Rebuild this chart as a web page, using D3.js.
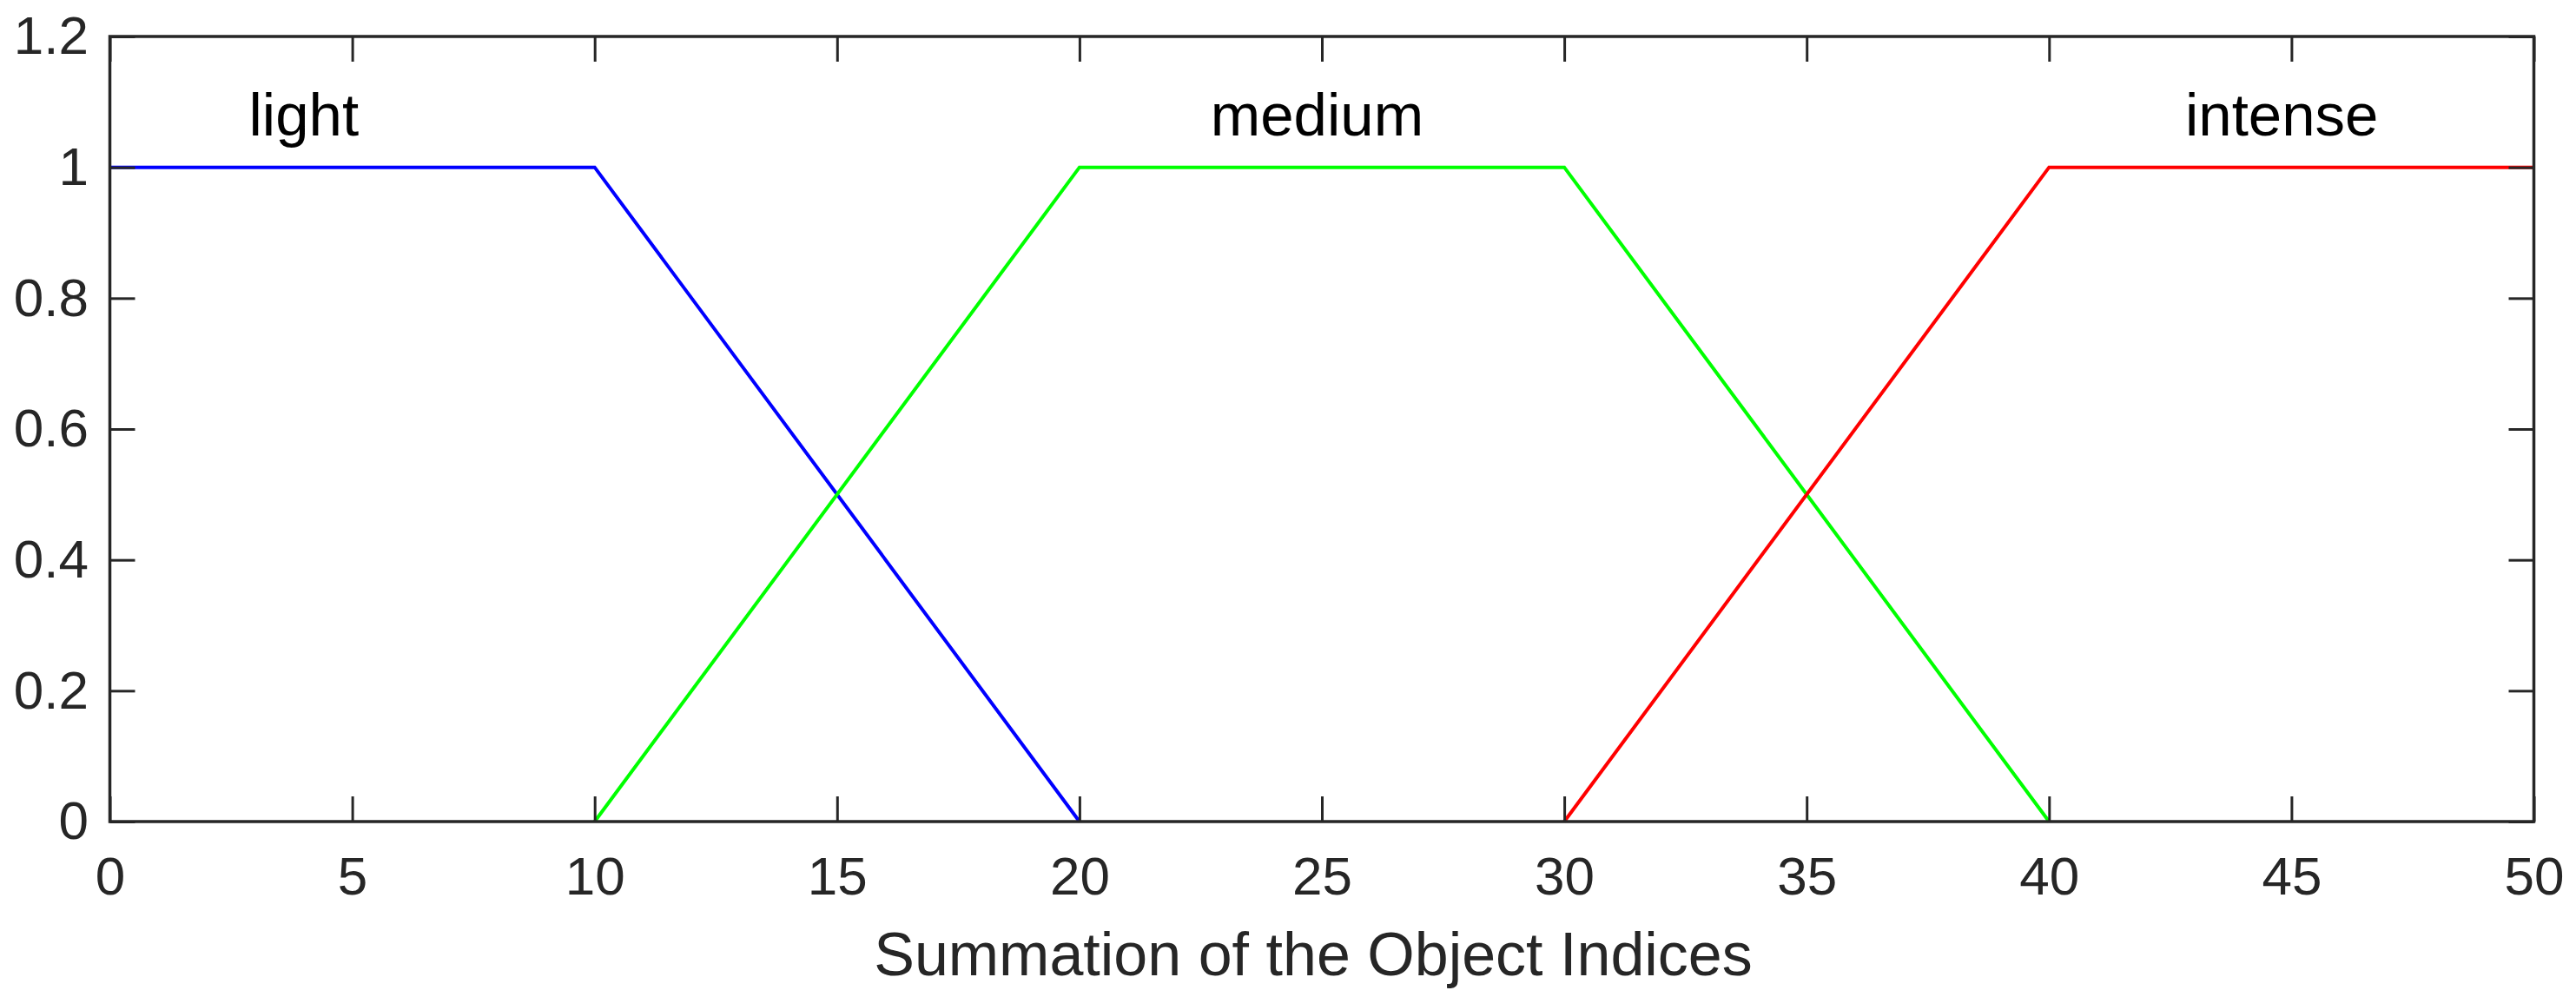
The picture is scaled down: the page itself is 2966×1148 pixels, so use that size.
<!DOCTYPE html>
<html>
<head>
<meta charset="utf-8">
<script src="https://cdn.jsdelivr.net/npm/d3@7"></script>
<style>
  html, body { margin: 0; padding: 0; background: #fff; }
  svg { display: block; }
  text { font-family: "Liberation Sans", Arial, Helvetica, sans-serif; }
</style>
</head>
<body>
<svg id="chart" width="2966" height="1148"></svg>
<script>
// ---- data ----
const xTicks = [0, 5, 10, 15, 20, 25, 30, 35, 40, 45, 50];
const yTicks = [0, 0.2, 0.4, 0.6, 0.8, 1, 1.2];
const yTickLabels = ["0", "0.2", "0.4", "0.6", "0.8", "1", "1.2"];
const lightX = [0, 10, 20];
const lightY = [1, 1, 0];
const mediumX = [10, 20, 30, 40];
const mediumY = [0, 1, 1, 0];
const intenseX = [30, 40, 50];
const intenseY = [0, 1, 1];
const seriesNames = ["light", "medium", "intense"];
const labelX = [4, 24.9, 44.8];
const labelY = [1.1, 1.1, 1.1];
const xLabel = "Summation of the Object Indices";

// ---- layout ----
const W = 2966, H = 1148;
const mLeft = 126.5, mRight = 2917.5, mTop = 42, mBottom = 946;
const axisColor = "#262626";

const svg = d3.select("#chart");
svg.append("rect").attr("width", W).attr("height", H).attr("fill", "#fff");

const x = d3.scaleLinear().domain([0, 50]).range([mLeft, mRight]);
const y = d3.scaleLinear().domain([0, 1.2]).range([mBottom, mTop]);

// series lines
const series = [
  { xs: lightX, ys: lightY, color: "#0000ff" },
  { xs: mediumX, ys: mediumY, color: "#00ff00" },
  { xs: intenseX, ys: intenseY, color: "#ff0000" }
];
const line = d3.line().x(d => x(d[0])).y(d => y(d[1]));
series.forEach(s => {
  svg.append("path")
    .datum(s.xs.map((v, i) => [v, s.ys[i]]))
    .attr("d", line)
    .attr("fill", "none")
    .attr("stroke", s.color)
    .attr("stroke-width", 4)
    .attr("stroke-linejoin", "miter");
});

// axes
function styleAxis(g) {
  g.select(".domain").remove();
  g.selectAll(".tick line").attr("stroke", axisColor).attr("stroke-width", 3);
  g.selectAll(".tick text").attr("fill", axisColor).attr("font-size", 62)
    .attr("font-family", '"Liberation Sans", Arial, sans-serif');
}
const tickLen = 29;
svg.append("g").attr("transform", `translate(0,${mBottom})`)
  .call(d3.axisBottom(x).tickValues(xTicks).tickFormat(d3.format("d")).tickSize(-tickLen).tickPadding(40))
  .call(styleAxis);
svg.append("g").attr("transform", `translate(0,${mTop})`)
  .call(d3.axisTop(x).tickValues(xTicks).tickFormat("").tickSize(-tickLen))
  .call(styleAxis);
svg.append("g").attr("transform", `translate(${mLeft},0)`)
  .call(d3.axisLeft(y).tickValues(yTicks).tickFormat((d, i) => yTickLabels[i]).tickSize(-tickLen).tickPadding(24.5))
  .call(styleAxis);
svg.append("g").attr("transform", `translate(${mRight},0)`)
  .call(d3.axisRight(y).tickValues(yTicks).tickFormat("").tickSize(-tickLen))
  .call(styleAxis);

// frame
svg.append("rect")
  .attr("x", mLeft).attr("y", mTop)
  .attr("width", mRight - mLeft).attr("height", mBottom - mTop)
  .attr("fill", "none").attr("stroke", axisColor).attr("stroke-width", 3.5);

// series labels
seriesNames.forEach((name, i) => {
  svg.append("text")
    .attr("x", x(labelX[i]))
    .attr("y", y(labelY[i]) + 39)
    .attr("text-anchor", "middle")
    .attr("font-size", 69)
    .attr("fill", "#000")
    .text(name);
});

// x-axis title
svg.append("text")
  .attr("x", (mLeft + mRight) / 2 - 10)
  .attr("y", 1123)
  .attr("text-anchor", "middle")
  .attr("font-size", 70)
  .attr("fill", axisColor)
  .text(xLabel);
</script>
</body>
</html>
